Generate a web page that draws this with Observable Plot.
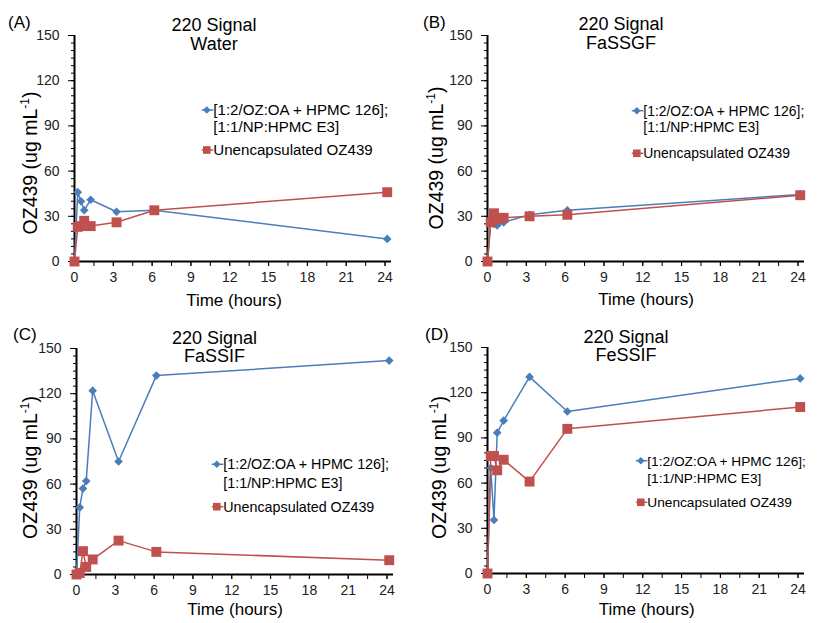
<!DOCTYPE html>
<html><head><meta charset="utf-8">
<script src="https://cdn.jsdelivr.net/npm/d3@7"></script>
<script src="https://cdn.jsdelivr.net/npm/@observablehq/plot@0.6"></script>
<style>
html,body{margin:0;padding:0;background:#fff;overflow:hidden}
#root{position:relative;width:817px;height:623px;font-family:"Liberation Sans",Arial,sans-serif}
.panel{position:absolute}
#overlay{position:absolute;left:0;top:0}
</style></head><body><div id="root"></div>
<script>
// ---- data ----
const times = [0, 0.25, 0.5, 0.75, 1.25, 3.25, 6.17, 24.17];
const panelLetters = ["(A)", "(B)", "(C)", "(D)"];
const titleLine = "220 Signal";
const media = ["Water", "FaSSGF", "FaSSIF", "FeSSIF"];
const legendBlue1 = "[1:2/OZ:OA + HPMC 126];";
const legendBlue2 = "[1:1/NP:HPMC E3]";
const legendRed = "Unencapsulated OZ439";
const xLabel = "Time (hours)";
const waterBlue  = [0, 46, 40, 34, 41, 33, 34, 15];
const waterRed   = [0, 23, 23.5, 27, 23.5, 26, 34, 46];
const fassgfBlue = [0, 27, 25, 24, 26, 31, 34, 44.5];
const fassgfRed  = [0, 26, 32, 28, 29, 30, 31, 44];
const fassifBlue = [0, 44.5, 57, 62, 122, 75, 132, 142];
const fassifRed  = [0, 1, 15.5, 5, 10, 22.5, 15, 9.5];
const fessifBlue = [0, 70, 35.5, 93.5, 101.5, 130.5, 107.5, 129.5];
const fessifRed  = [0, 78, 78, 68.5, 75.5, 61, 96, 110.5];
const yTicks = [0, 30, 60, 90, 120, 150];
const xTicks = [0, 3, 6, 9, 12, 15, 18, 21, 24];

const BLUE = "#4A7EBB", RED = "#C0504D";
const FONT = '"Liberation Sans", Arial, sans-serif';

// ---- layout (page coordinates) ----
const layouts = [
  {left: 0,   top: 0,   lab: [8, 28],     title: [214, 31.2, 49.6],    ylab: [36.5, 163],   xlab: [234, 305.5],   leg: [213.3, 110, 126.7, 150],     legFont: 15.1},
  {left: 413, top: 0,   lab: [423, 27.5], title: [621, 30.2, 48.6],    ylab: [443.3, 158],  xlab: [646, 305],     leg: [643.3, 110.7, 126.7, 153.3], legFont: 13.9},
  {left: 1.5, top: 313, lab: [13, 340],   title: [214.5, 343.6, 362.2], ylab: [36.7, 467.5], xlab: [235, 614.5],   leg: [223.3, 464.3, 482.7, 506.7], legFont: 14.3},
  {left: 413, top: 312, lab: [425, 340],  title: [626, 342.9, 361.4],  ylab: [446, 467.5],  xlab: [646.7, 615],   leg: [647.3, 460.7, 478.3, 502.3], legFont: 13.7}
];
const panelData = [[waterBlue, waterRed], [fassgfBlue, fassgfRed], [fassifBlue, fassifRed], [fessifBlue, fessifRed]];

const root = document.getElementById("root");

function makePanel(blue, red) {
  const dB = times.map((t, i) => ({t, v: blue[i]}));
  const dR = times.map((t, i) => ({t, v: red[i]}));
  return Plot.plot({
    width: 404, height: 310,
    marginLeft: 74, marginRight: 13, marginTop: 35, marginBottom: 49,
    x: {domain: [0, 24.5]},
    y: {domain: [0, 150]},
    style: {fontFamily: FONT, fontSize: "14px", color: "#000", background: "none", overflow: "visible"},
    marks: [
      Plot.axisY({ticks: yTicks, tickSize: 6, tickPadding: 9, label: null, fill: "#222", fontSize: 14}),
      Plot.axisY({interval: 5, tickSize: 3, text: null, label: null}),
      Plot.axisX({interval: 1.5, tickSize: 5, text: null, label: null}),
      Plot.axisX({ticks: xTicks, tickSize: 5, tickPadding: 6, label: null, fill: "#222", fontSize: 14}),
      Plot.ruleX([0], {stroke: "#000", strokeWidth: 2}),
      Plot.ruleY([0], {stroke: "#000", strokeWidth: 2}),
      Plot.line(dB, {x: "t", y: "v", stroke: BLUE, strokeWidth: 1.5}),
      Plot.dot(dB, {x: "t", y: "v", symbol: "diamond2", fill: BLUE, stroke: "none", r: 3.9}),
      Plot.line(dR, {x: "t", y: "v", stroke: RED, strokeWidth: 1.5}),
      Plot.dot(dR, {x: "t", y: "v", symbol: "square", fill: RED, stroke: "none", r: 5.6})
    ]
  });
}

layouts.forEach((lay, i) => {
  const p = makePanel(panelData[i][0], panelData[i][1]);
  p.classList.add("panel");
  p.style.left = lay.left + "px";
  p.style.top = lay.top + "px";
  root.appendChild(p);
});

// ---- text overlay ----
const svg = d3.create("svg").attr("id", "overlay").attr("width", 817).attr("height", 623)
  .style("font-family", FONT).style("overflow", "visible");
layouts.forEach((lay, i) => {
  const g = svg.append("g");
  g.append("text").attr("x", lay.lab[0]).attr("y", lay.lab[1]).attr("font-size", 17).text(panelLetters[i]);
  g.append("text").attr("x", lay.title[0]).attr("y", lay.title[1]).attr("font-size", 18).attr("text-anchor", "middle").text(titleLine);
  g.append("text").attr("x", lay.title[0]).attr("y", lay.title[2]).attr("font-size", 18).attr("text-anchor", "middle").text(media[i]);
  g.append("text").attr("x", lay.xlab[0]).attr("y", lay.xlab[1]).attr("font-size", 17).attr("text-anchor", "middle").text(xLabel);
  const yl = g.append("text").attr("transform", `translate(${lay.ylab[0]},${lay.ylab[1]}) rotate(-90)`)
    .attr("font-size", 19.5).attr("text-anchor", "middle");
  yl.append("tspan").text("OZ439 (ug mL");
  yl.append("tspan").attr("font-size", 12).attr("dy", -8).text("-1");
  yl.append("tspan").attr("dy", 8).text(")");
  // legend
  const [tx, y1, y2, y3] = lay.leg;
  const fs = lay.legFont;
  g.append("line").attr("x1", tx - 11.5).attr("x2", tx).attr("y1", y1).attr("y2", y1).attr("stroke", BLUE).attr("stroke-width", 1.5);
  g.append("path").attr("d", `M${tx - 6.5},${y1 - 3.8}L${tx - 2.7},${y1}L${tx - 6.5},${y1 + 3.8}L${tx - 10.3},${y1}Z`).attr("fill", BLUE);
  g.append("line").attr("x1", tx - 11.5).attr("x2", tx).attr("y1", y3).attr("y2", y3).attr("stroke", RED).attr("stroke-width", 1.5);
  g.append("rect").attr("x", tx - 10.3).attr("y", y3 - 3.8).attr("width", 7.6).attr("height", 7.6).attr("fill", RED);
  g.append("text").attr("x", tx).attr("y", y1 + 5).attr("font-size", fs).text(legendBlue1);
  g.append("text").attr("x", tx).attr("y", y2 + 5).attr("font-size", fs).text(legendBlue2);
  g.append("text").attr("x", tx).attr("y", y3 + 5).attr("font-size", fs).text(legendRed);
});
root.appendChild(svg.node());
</script></body></html>
